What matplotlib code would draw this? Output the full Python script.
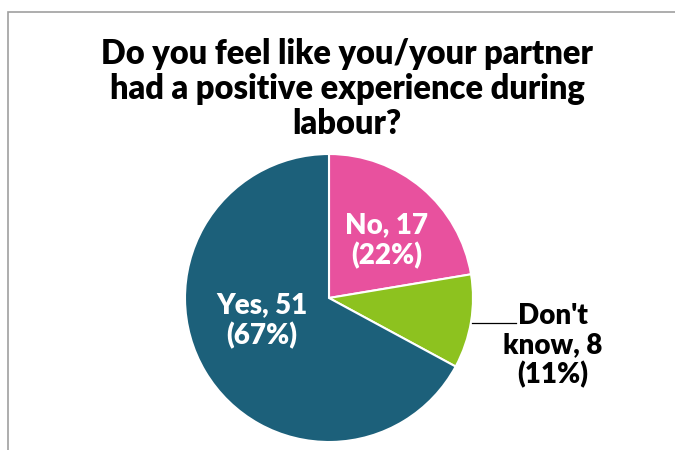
import matplotlib
matplotlib.use("Agg")
import matplotlib.pyplot as plt
from matplotlib.patches import Rectangle

# data
labels = ["No", "Don't know", "Yes"]
counts = [17, 8, 51]
colours = ["#E8519E", "#8DC21F", "#1C607A"]
title = "Do you feel like you/your partner\nhad a positive experience during\nlabour?"

plt.rcParams['font.family'] = ['Lato', 'DejaVu Sans']

fig = plt.figure(figsize=(6.75, 4.5), dpi=100)
W, H = 675, 450

# chart area border (top + left visible)
fig.patches.append(Rectangle((8 / W, -0.1), 1.2, 1.1 - 12 / H, transform=fig.transFigure,
                             fill=False, edgecolor="#A0A0A0", linewidth=1.2))

fig.text(347 / W, 1 - 89 / H, title, ha="center", va="center", fontsize=23.5,
         fontweight="heavy", linespacing=1.13)

# pie placed so that radius 1 = 144 px, centre at (329, 298)
cx, cy, r = 329, 298, 144
ax = fig.add_axes([(cx - r) / W, (H - cy - r) / H, 2 * r / W, 2 * r / H])
wedges, _ = ax.pie(counts, colors=colours, startangle=90, counterclock=False,
                   wedgeprops=dict(edgecolor="white", linewidth=1.5))
ax.set_xlim(-1, 1)
ax.set_ylim(-1, 1)
ax.set_aspect("equal")
ax.axis("off")

total = sum(counts)
pct = [round(c * 100 / total) for c in counts]

ax.text(0.40, 0.40, f"{labels[0]}, {counts[0]}\n({pct[0]}%)", ha="center", va="center",
        color="white", fontsize=20, fontweight="heavy", linespacing=1.18)
ax.text(-0.465, -0.16, f"{labels[2]}, {counts[2]}\n({pct[2]}%)", ha="center", va="center",
        color="white", fontsize=20, fontweight="heavy", linespacing=1.18)
ax.text(1.556, -0.33, f"Don't\nknow, {counts[1]}\n({pct[1]}%)", ha="center", va="center",
        color="black", fontsize=20, fontweight="heavy", linespacing=1.15)
ax.plot([0.993, 1.30], [-0.174, -0.174], color="black", linewidth=0.9, clip_on=False)

fig.savefig("out.png", dpi=100)
